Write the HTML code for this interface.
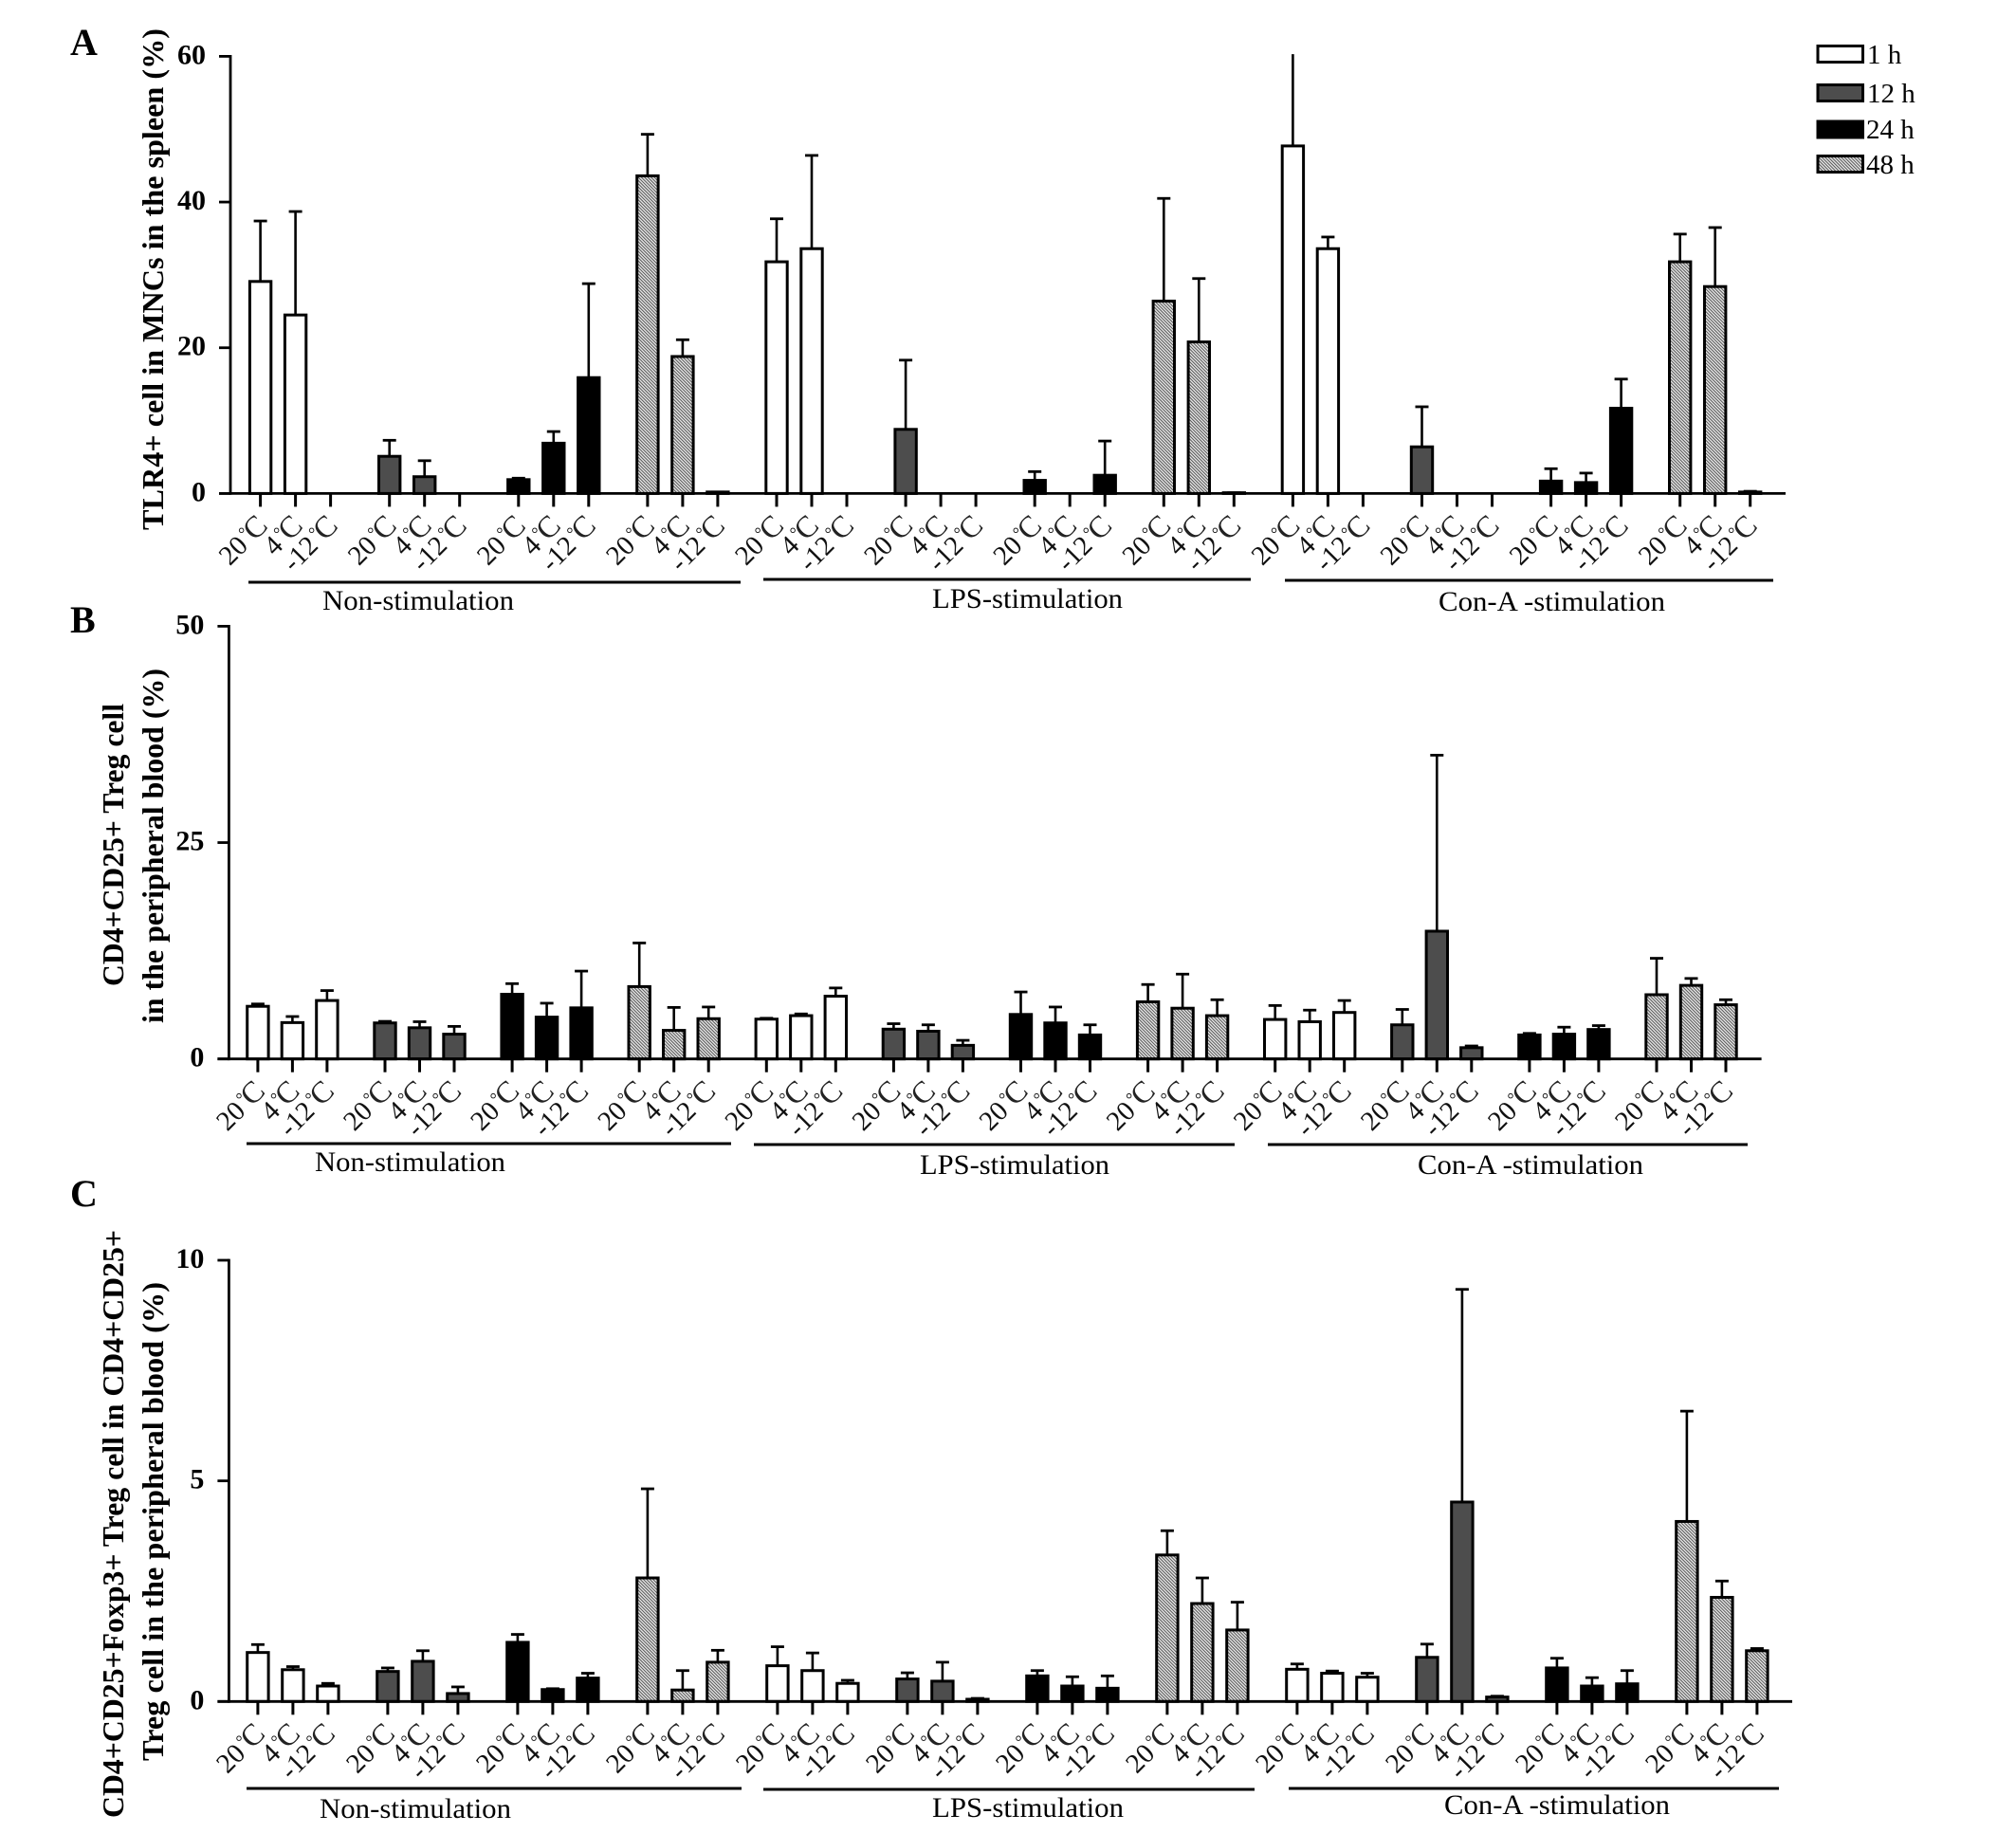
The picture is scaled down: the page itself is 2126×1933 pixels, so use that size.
<!DOCTYPE html>
<html lang="en">
<head>
<meta charset="utf-8">
<title>TLR4+ and Treg cell percentages by stimulation, time and temperature</title>
<style>
html,body{margin:0;padding:0;background:#fff;}
svg{display:block;}
text{font-family:"Liberation Serif",serif;fill:#000;}
.panel-letter{font-size:40px;font-weight:bold;}
.y-title{font-size:32px;font-weight:bold;}
.group-label{font-size:30px;}
.legend-label{font-size:29px;}
.y-tick{font-size:30px;font-weight:bold;text-anchor:end;}
.x-tick{font-size:29px;text-anchor:end;fill:#111;}
</style>
</head>
<body>
<svg id="figure" xmlns="http://www.w3.org/2000/svg" width="2126" height="1933" viewBox="0 0 2126 1933">
  <defs>
    <pattern id="hatch" patternUnits="userSpaceOnUse" width="2.4" height="2.4" patternTransform="rotate(-45)">
      <rect width="2.4" height="2.4" fill="#e5e5e5"></rect>
      <rect x="0" width="1" height="2.4" fill="#555"></rect>
    </pattern>
  </defs>
  <rect width="2126" height="1933" fill="#fff"></rect>

  <text class="panel-letter" x="74" y="58">A</text>
  <text class="panel-letter" x="74" y="667">B</text>
  <text class="panel-letter" x="74" y="1272">C</text>

  <text class="y-title" transform="translate(172,559) rotate(-90)" textLength="529" lengthAdjust="spacingAndGlyphs">TLR4+ cell in MNCs in the spleen (%)</text>
  <text class="y-title" transform="translate(130,1040) rotate(-90)" textLength="298" lengthAdjust="spacingAndGlyphs">CD4+CD25+ Treg cell</text>
  <text class="y-title" transform="translate(172,1079) rotate(-90)" textLength="374" lengthAdjust="spacingAndGlyphs">in the peripheral blood (%)</text>
  <text class="y-title" transform="translate(130,1917) rotate(-90)" textLength="620" lengthAdjust="spacingAndGlyphs">CD4+CD25+Foxp3+ Treg cell in CD4+CD25+</text>
  <text class="y-title" transform="translate(172,1857) rotate(-90)" textLength="505" lengthAdjust="spacingAndGlyphs">Treg cell in the peripheral blood (%)</text>

  <g>
    <line x1="262" y1="614" x2="781" y2="614" stroke="#000" stroke-width="3"></line>
    <line x1="805" y1="611" x2="1319" y2="611" stroke="#000" stroke-width="3"></line>
    <line x1="1355" y1="612" x2="1870" y2="612" stroke="#000" stroke-width="3"></line>
    <text class="group-label" x="340" y="643" textLength="202" lengthAdjust="spacingAndGlyphs">Non-stimulation</text>
    <text class="group-label" x="983" y="641" textLength="201" lengthAdjust="spacingAndGlyphs">LPS-stimulation</text>
    <text class="group-label" x="1517" y="644" textLength="239" lengthAdjust="spacingAndGlyphs">Con-A -stimulation</text>
  </g>
  <g>
    <line x1="260" y1="1206" x2="771" y2="1206" stroke="#000" stroke-width="3"></line>
    <line x1="795" y1="1207" x2="1302" y2="1207" stroke="#000" stroke-width="3"></line>
    <line x1="1337" y1="1207" x2="1843" y2="1207" stroke="#000" stroke-width="3"></line>
    <text class="group-label" x="332" y="1235" textLength="201" lengthAdjust="spacingAndGlyphs">Non-stimulation</text>
    <text class="group-label" x="970" y="1238" textLength="200" lengthAdjust="spacingAndGlyphs">LPS-stimulation</text>
    <text class="group-label" x="1495" y="1238" textLength="238" lengthAdjust="spacingAndGlyphs">Con-A -stimulation</text>
  </g>
  <g>
    <line x1="260" y1="1886" x2="782" y2="1886" stroke="#000" stroke-width="3"></line>
    <line x1="805" y1="1887" x2="1323" y2="1887" stroke="#000" stroke-width="3"></line>
    <line x1="1359" y1="1886" x2="1876" y2="1886" stroke="#000" stroke-width="3"></line>
    <text class="group-label" x="337" y="1917" textLength="202" lengthAdjust="spacingAndGlyphs">Non-stimulation</text>
    <text class="group-label" x="983" y="1916" textLength="202" lengthAdjust="spacingAndGlyphs">LPS-stimulation</text>
    <text class="group-label" x="1523" y="1913" textLength="238" lengthAdjust="spacingAndGlyphs">Con-A -stimulation</text>
  </g>

  <g>
    <rect x="1917" y="48.5" width="47.5" height="17" fill="#fff" stroke="#000" stroke-width="3"></rect>
    <text class="legend-label" x="1969" y="67">1 h</text>
    <rect x="1917" y="89.5" width="47.5" height="17" fill="#4d4d4d" stroke="#000" stroke-width="3"></rect>
    <text class="legend-label" x="1969" y="108">12 h</text>
    <rect x="1917" y="128" width="47.5" height="17" fill="#000" stroke="#000" stroke-width="3"></rect>
    <text class="legend-label" x="1968" y="146">24 h</text>
    <rect x="1917" y="164.5" width="47.5" height="17" fill="url(#hatch)" stroke="#000" stroke-width="3"></rect>
    <text class="legend-label" x="1968" y="183">48 h</text>
  </g>
</svg>

<script>
// ---- shared categories ----
const temperatures = ['20', '4', '-12'];
const timePoints = ['1h', '12h', '24h', '48h'];
const stimulations = ['non', 'lps', 'cona'];

// ---- panel A: TLR4+ cells, spleen ----
const panelATicks = [0, 20, 40, 60];
const panelAMeans = [
  29.1, 24.5, 0,    5.1, 2.3, 0,    1.9, 6.9, 15.9,   43.6, 18.8, 0.2,
  31.8, 33.6, 0,    8.8, 0, 0,      1.8, 0, 2.5,      26.4, 20.8, 0.1,
  47.7, 33.6, 0,    6.4, 0, 0,      1.7, 1.5, 11.7,   31.8, 28.4, 0.2
];
const panelAUpper = [
  37.4, 38.7, 0,    7.3, 4.5, 0,    2.1, 8.5, 28.8,   49.3, 21.1, 0.2,
  37.7, 46.4, 0,    18.3, 0, 0,     3.0, 0, 7.2,      40.5, 29.5, 0.1,
  60.3, 35.2, 0,    11.9, 0, 0,     3.4, 2.8, 15.7,   35.6, 36.5, 0.3
];

// ---- panel B: CD4+CD25+ Treg, peripheral blood ----
const panelBTicks = [0, 25, 50];
const panelBMeans = [
  6.08, 4.2, 6.75,   4.16, 3.6, 2.86,   7.47, 4.83, 5.9,   8.36, 3.3, 4.65,
  4.6, 5.0, 7.25,    3.44, 3.2, 1.57,   5.14, 4.16, 2.77,  6.6, 5.86, 5.0,
  4.56, 4.3, 5.37,   3.94, 14.76, 1.3,  2.77, 2.86, 3.4,   7.42, 8.5, 6.26
];
const panelBUpper = [
  6.35, 4.9, 7.9,    4.34, 4.3, 3.76,   8.7, 6.44, 10.15,  13.4, 5.95, 6.0,
  4.7, 5.2, 8.2,     4.07, 3.94, 2.15,  7.74, 6.0, 3.94,   8.6, 9.8, 6.84,
  6.17, 5.64, 6.75,  5.72, 35.1, 1.5,   2.95, 3.67, 3.85,  11.63, 9.3, 6.84
];

// ---- panel C: CD4+CD25+Foxp3+ Treg, peripheral blood ----
const panelCTicks = [0, 5, 10];
const panelCMeans = [
  1.11, 0.72, 0.35,  0.68, 0.91, 0.18,  1.34, 0.27, 0.53,  2.8, 0.26, 0.89,
  0.81, 0.7, 0.41,   0.51, 0.46, 0.05,  0.58, 0.35, 0.3,   3.32, 2.22, 1.62,
  0.73, 0.64, 0.55,  1.0, 4.52, 0.1,    0.76, 0.35, 0.4,   4.08, 2.36, 1.15
];
const panelCUpper = [
  1.29, 0.79, 0.41,  0.76, 1.15, 0.33,  1.52, 0.29, 0.64,  4.82, 0.7, 1.16,
  1.24, 1.1, 0.48,   0.65, 0.89, 0.07,  0.7, 0.56, 0.58,   3.87, 2.8, 2.25,
  0.85, 0.69, 0.64,  1.3, 9.34, 0.12,   0.98, 0.54, 0.7,   6.58, 2.73, 1.2
];

// ---- layout (geometry only) ----
const panelALayout = {name:'panel-a', axisX:243, y0:520.4, yTop:59.4, axisMax:60, x0:274.6, clusterStep:136.1, barStep:37, axisEnd:1883, means:panelAMeans, upper:panelAUpper, ticks:panelATicks};
const panelBLayout = {name:'panel-b', axisX:241.4, y0:1116.7, yTop:660.4, axisMax:50, x0:271.9, clusterStep:134.1, barStep:36.5, axisEnd:1857.6, means:panelBMeans, upper:panelBUpper, ticks:panelBTicks};
const panelCLayout = {name:'panel-c', axisX:241.4, y0:1794.3, yTop:1329, axisMax:10, x0:271.9, clusterStep:137, barStep:37, axisEnd:1890, means:panelCMeans, upper:panelCUpper, ticks:panelCTicks};

const SVG_NS = 'http://www.w3.org/2000/svg';
const figure = document.getElementById('figure');
const seriesFills = {'1h':'#fff', '12h':'#4d4d4d', '24h':'#000', '48h':'url(#hatch)'};

function make(tag, parent, props) {
  const node = document.createElementNS(SVG_NS, tag);
  for (const key in props) node.setAttribute(key, props[key]);
  parent.appendChild(node);
  return node;
}
function yScale(p, v) { return p.y0 - v * (p.y0 - p.yTop) / p.axisMax; }
function xScale(p, i) { return p.x0 + Math.floor(i / 3) * p.clusterStep + (i % 3) * p.barStep; }

function drawPanel(p) {
  const group = make('g', figure, {});
  
  

  // bars and error bars
  p.means.forEach(function (mean, i) {
    const cx = xScale(p, i);
    const cluster = Math.floor(i / 3);
    const time = timePoints[cluster % 4];
    const stim = stimulations[Math.floor(cluster / 4)];
    const temp = temperatures[i % 3];
    if (mean > 0) {
      const hi = p.upper[i];
      const topY = yScale(p, Math.min(hi, p.axisMax * 1.006));
      const stem = make('line', group, {x1:cx, x2:cx, y1:yScale(p, mean), y2:topY, stroke:'#000', 'stroke-width':2.6});
      
      
      if (hi <= p.axisMax) {
        const cap = make('line', group, {x1:cx - 7, x2:cx + 7, y1:topY, y2:topY, stroke:'#000', 'stroke-width':2.8});
        
        
      }
      const barTop = yScale(p, mean);
      const bar = make('rect', group, {x:cx - 11.2, y:barTop, width:22.4, height:p.y0 - barTop, fill:seriesFills[time], stroke:'#000', 'stroke-width':3});
      
      
    }
    // x tick
    const tick = make('line', group, {x1:cx, x2:cx, y1:p.y0, y2:p.y0 + 14, stroke:'#000', 'stroke-width':3});
    
    
    // x tick label: digits, raised small degree sign, large thin C
    const lx = cx + 9.2, ly = p.y0 + 35.6;
    const label = make('text', group, {'class':'x-tick', transform:'translate(' + lx + ',' + ly + ') rotate(-45)'});
    
    
    const num = make('tspan', label, {});
    num.textContent = temp;
    const deg = make('tspan', label, {'font-size':'18', dy:'-9', dx:'3'});
    deg.textContent = '°';
    const cel = make('tspan', label, {'font-size':'32', dy:'9', dx:'-2', fill:'#222'});
    cel.textContent = 'C';
  });

  // y axis and ticks
  p.ticks.forEach(function (t) {
    const y = yScale(p, t);
    const tickMark = make('line', group, {x1:p.axisX - 12, x2:p.axisX, y1:y, y2:y, stroke:'#000', 'stroke-width':2.8});
    
    
    const tickText = make('text', group, {'class':'y-tick', x:p.axisX - 26, y:y + 8});
    
    
    tickText.textContent = String(t);
  });
  const yAxis = make('line', group, {x1:p.axisX, x2:p.axisX, y1:p.yTop - 1.4, y2:p.y0 + 1.4, stroke:'#000', 'stroke-width':2.8});
  
  
  const xAxis = make('line', group, {x1:p.axisX - 12, x2:p.axisEnd, y1:p.y0, y2:p.y0, stroke:'#000', 'stroke-width':2.8});
  
  
}

drawPanel(panelALayout);
drawPanel(panelBLayout);
drawPanel(panelCLayout);
</script>
</body>
</html>
